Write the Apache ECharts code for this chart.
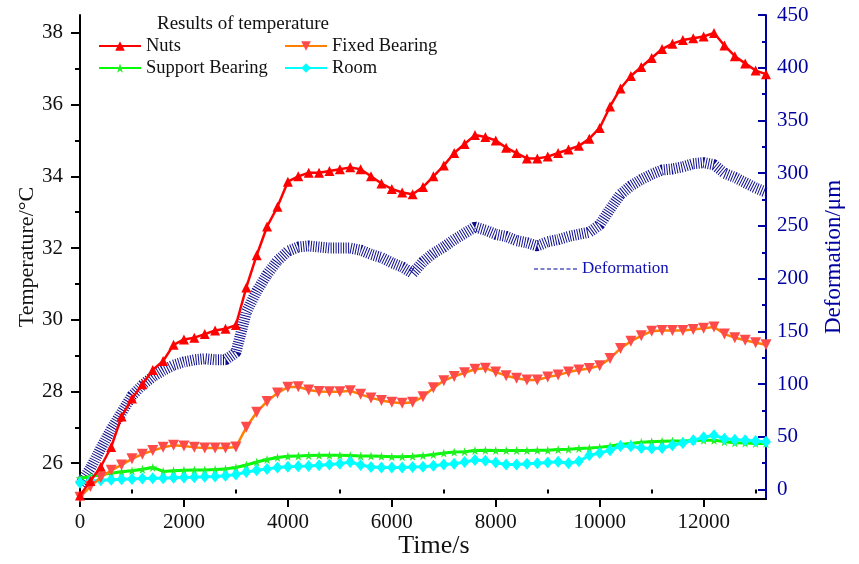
<!DOCTYPE html>
<html>
<head>
<meta charset="utf-8">
<script src="https://cdn.jsdelivr.net/npm/echarts@6/dist/echarts.min.js"></script>
<style>html,body{margin:0;padding:0;background:#fff}#c{width:859px;height:564px}</style>
</head>
<body>
<div id="c"></div>
<script>
var times = [0,200,400,600,800,1000,1200,1400,1600,1800,
  2000,2200,2400,2600,2800,3000,3200,3400,3600,3800,
  4000,4200,4400,4600,4800,5000,5200,5400,5600,5800,
  6000,6200,6400,6600,6800,7000,7200,7400,7600,7800,
  8000,8200,8400,8600,8800,9000,9200,9400,9600,9800,
  10000,10200,10400,10600,10800,11000,11200,11400,11600,11800,
  12000,12200,12400,12600,12800,13000,13200];
var nuts = [25.1,25.5,25.9,26.45,27.3,27.8,28.2,28.6,28.85,29.3,
  29.45,29.5,29.6,29.7,29.75,29.85,30.9,31.8,32.6,33.15,
  33.85,34.0,34.1,34.1,34.15,34.2,34.25,34.2,34.0,33.8,
  33.65,33.55,33.5,33.7,34.0,34.3,34.65,34.9,35.15,35.1,
  35.0,34.8,34.65,34.5,34.5,34.55,34.65,34.75,34.85,35.05,
  35.35,35.95,36.45,36.8,37.05,37.3,37.55,37.7,37.8,37.85,
  37.9,38.0,37.65,37.35,37.15,36.95,36.85];
var fixedBearing = [25.05,25.35,25.6,25.8,25.95,26.12,26.25,26.35,26.44,26.5,
  26.48,26.44,26.42,26.42,26.42,26.45,27.0,27.42,27.72,27.96,
  28.12,28.13,28.04,28.0,27.99,27.99,28.02,27.92,27.82,27.75,
  27.7,27.67,27.7,27.85,28.1,28.3,28.42,28.52,28.62,28.65,
  28.54,28.44,28.37,28.32,28.32,28.4,28.46,28.54,28.6,28.64,
  28.72,28.92,29.2,29.4,29.55,29.68,29.7,29.7,29.7,29.73,
  29.76,29.8,29.6,29.5,29.43,29.36,29.3];
var supportBearing = [25.58,25.62,25.68,25.72,25.76,25.79,25.83,25.88,25.77,25.79,
  25.8,25.81,25.81,25.82,25.84,25.88,25.95,26.03,26.1,26.16,
  26.19,26.2,26.21,26.22,26.22,26.22,26.21,26.2,26.2,26.19,
  26.18,26.18,26.19,26.21,26.24,26.28,26.31,26.32,26.35,26.36,
  26.35,26.35,26.35,26.35,26.36,26.36,26.38,26.39,26.41,26.42,
  26.44,26.48,26.52,26.55,26.58,26.6,26.61,26.62,26.62,26.63,
  26.64,26.64,26.6,26.57,26.56,26.55,26.55];
var room = [25.45,25.5,25.52,25.54,25.55,25.56,25.57,25.58,25.58,25.59,
  25.6,25.61,25.62,25.63,25.65,25.68,25.75,25.8,25.84,25.88,
  25.9,25.91,25.92,25.94,25.96,25.98,26.03,25.95,25.89,25.88,
  25.88,25.88,25.89,25.9,25.93,25.96,25.98,26.03,26.09,26.07,
  26.02,25.96,25.96,25.98,26.0,26.02,26.04,26.0,26.05,26.22,
  26.28,26.36,26.48,26.47,26.42,26.41,26.42,26.5,26.56,26.64,
  26.72,26.78,26.68,26.65,26.64,26.62,26.6];
var deformation = [5,20,39,57,73,89,99,107,113,118,
  121,123,124,123,123,130,168,188,204,217,
  226,230,231,230,229,229,229,227,223,220,
  215,211,205,216,224,230,237,243,249,246,
  242,240,236,234,231,235,237,240,242,244,
  251,266,280,288,294,299,303,304,306,309,
  310,308,300,296,291,286,282];

var xMajorTicks = [0,2000,4000,6000,8000,10000,12000];
var xMinorTicks = [1000,3000,5000,7000,9000,11000,13000];
var tempMajorTicks = [26,28,30,32,34,36,38];
var tempMinorTicks = [27,29,31,33,35,37];
var defMajorTicks = [0,50,100,150,200,250,300,350,400,450];
var defMinorTicks = [25,75,125,175,225,275,325,375,425];

function pairs(arr){ return times.map(function(t,i){ return [t, arr[i]]; }); }

var FONT = 'Liberation Serif';
var BLUE = '#0000A0';
var starPath = 'path://M50,0 L61,35 L98,35 L68,57 L79,91 L50,70 L21,91 L32,57 L2,35 L39,35 Z';
var dashIcon = 'path://M0,0h4v1h-4zM6.5,0h4v1h-4zM13,0h4v1h-4zM19.5,0h4v1h-4zM26,0h4v1h-4zM32.5,0h4v1h-4zM39,0h4v1h-4z';

var chart = echarts.init(document.getElementById('c'), null, {renderer:'canvas'});
var gridRect = {left:80, right:93, top:15, bottom:65, containLabel:false, outerBoundsMode:'none'};
var legendText = {fontFamily:FONT, fontSize:18.5, color:'#111', lineHeight:20};
function leg(name, left, top){
  return {data:[name], left:left, top:top, padding:0, itemWidth:42, itemHeight:12,
    textStyle:legendText, selectedMode:false, orient:'horizontal'};
}
function plain(v){ return String(v); }
var option = {
  backgroundColor:'#fff',
  animation:false,
  title:{text:'Results of temperature', left:157, top:15, padding:0,
    textStyle:{fontFamily:FONT, fontSize:19, fontWeight:'normal', color:'#111'}},
  legend:[
    leg('Nuts', 98, 36),
    leg('Fixed Bearing', 284, 36),
    leg('Support Bearing', 98, 58),
    leg('Room', 284, 58),
    {data:['Deformation'], left:534, top:260, padding:0, itemWidth:43, itemHeight:1.3,
      selectedMode:false, icon:dashIcon, itemStyle:{color:BLUE},
      textStyle:{fontFamily:FONT, fontSize:17, color:'#1010B0', lineHeight:18}}
  ],
  grid:[Object.assign({}, gridRect), Object.assign({}, gridRect)],
  xAxis:[
    {type:'value', gridIndex:0, min:0, max:13200, position:'bottom',
      name:'Time/s', nameLocation:'middle', nameGap:34, nameMoveOverlap:false,
      nameTextStyle:{fontFamily:FONT, fontSize:26, color:'#111', padding:[0,0,0,22]},
      axisLine:{show:true, onZero:false, lineStyle:{color:'#000', width:2}},
      axisTick:{show:true, inside:false, length:8, lineStyle:{color:'#000', width:2}, customValues:xMajorTicks},
      axisLabel:{show:true, margin:13, fontFamily:FONT, fontSize:21, color:'#111', customValues:xMajorTicks, formatter:plain},
      splitLine:{show:false}},
    {type:'value', gridIndex:1, min:0, max:13200, position:'bottom',
      axisLine:{show:false},
      axisTick:{show:true, inside:false, length:4, lineStyle:{color:'#000', width:2}, customValues:xMinorTicks},
      axisLabel:{show:false}, splitLine:{show:false}}
  ],
  yAxis:[
    {type:'value', gridIndex:0, min:25, max:38.5, position:'left',
      name:'Temperature/°C', nameLocation:'middle', nameGap:42, nameRotate:90, nameMoveOverlap:false,
      nameTextStyle:{fontFamily:FONT, fontSize:22, color:'#111'},
      axisLine:{show:true, onZero:false, lineStyle:{color:'#000', width:2}},
      axisTick:{show:true, inside:false, length:9, lineStyle:{color:'#000', width:2}, customValues:tempMajorTicks},
      axisLabel:{show:true, margin:17, fontFamily:FONT, fontSize:21, color:'#111', customValues:tempMajorTicks, formatter:plain},
      splitLine:{show:false}},
    {type:'value', gridIndex:0, min:-9, max:450, position:'right',
      name:'Deformation/μm', nameLocation:'middle', nameGap:56, nameRotate:90, nameMoveOverlap:false,
      nameTextStyle:{fontFamily:FONT, fontSize:23, color:BLUE},
      axisLine:{show:true, onZero:false, lineStyle:{color:BLUE, width:2}},
      axisTick:{show:true, inside:true, length:8, lineStyle:{color:BLUE, width:2}, customValues:defMajorTicks},
      axisLabel:{show:true, margin:11, fontFamily:FONT, fontSize:21, color:BLUE, customValues:defMajorTicks, formatter:plain},
      splitLine:{show:false}},
    {type:'value', gridIndex:1, min:25, max:38.5, position:'left',
      axisLine:{show:false},
      axisTick:{show:true, inside:false, length:5, lineStyle:{color:'#000', width:2}, customValues:tempMinorTicks},
      axisLabel:{show:false}, splitLine:{show:false}},
    {type:'value', gridIndex:1, min:-9, max:450, position:'right',
      axisLine:{show:false},
      axisTick:{show:true, inside:true, length:4, lineStyle:{color:BLUE, width:2}, customValues:defMinorTicks},
      axisLabel:{show:false}, splitLine:{show:false}}
  ],
  series:[
    {name:'Deformation', type:'line', xAxisIndex:0, yAxisIndex:1, data:pairs(deformation),
      symbol:'none', color:BLUE, z:1,
      lineStyle:{width:11, type:[1,1.5], color:'#000088', opacity:0.95, cap:'butt'}},
    {name:'Support Bearing', type:'line', xAxisIndex:0, yAxisIndex:0, data:pairs(supportBearing),
      symbol:starPath, symbolSize:9, showAllSymbol:true, color:'#00FF00', z:3,
      lineStyle:{width:3, color:'#00FF00'}, itemStyle:{color:'#22EE22'}},
    {name:'Room', type:'line', xAxisIndex:0, yAxisIndex:0, data:pairs(room),
      symbol:'diamond', symbolSize:[10,12], showAllSymbol:true, color:'#00FFFF', z:4,
      lineStyle:{width:3, color:'#00FFFF'}, itemStyle:{color:'#00FFFF'}},
    {name:'Fixed Bearing', type:'line', xAxisIndex:0, yAxisIndex:0, data:pairs(fixedBearing),
      symbol:'triangle', symbolRotate:180, symbolSize:11, showAllSymbol:true, color:'#FF8000', z:5,
      lineStyle:{width:2.5, color:'#FF8000'}, itemStyle:{color:'#FF4A4A'}},
    {name:'Nuts', type:'line', xAxisIndex:0, yAxisIndex:0, data:pairs(nuts),
      symbol:'triangle', symbolSize:10, showAllSymbol:true, color:'#FF0000', z:6,
      lineStyle:{width:2.5, color:'#FF0000'}, itemStyle:{color:'#FF0000'}}
  ]
};
chart.setOption(option);
</script>
</body>
</html>
